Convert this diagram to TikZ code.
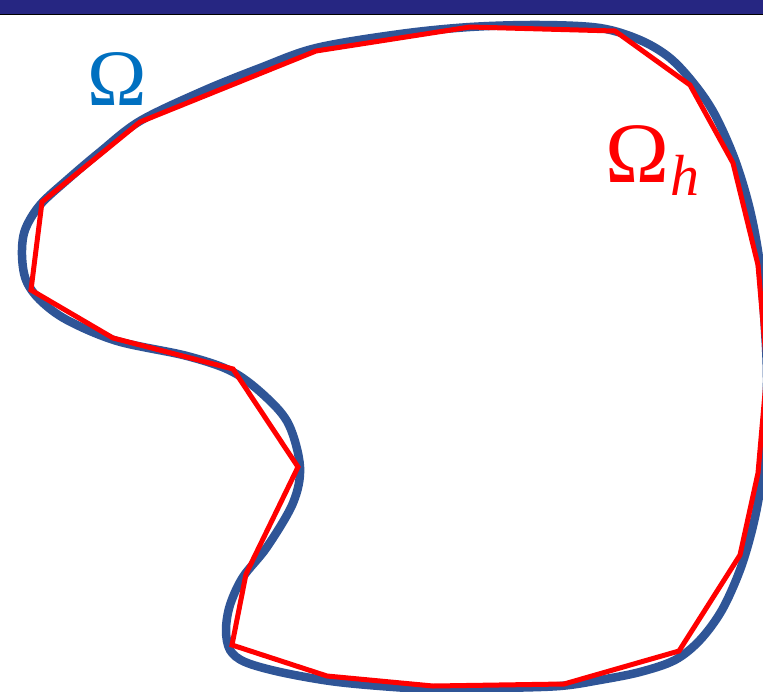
\documentclass[tikz,border=0pt]{standalone}
\usepackage{fontspec}
\newfontfamily\omegafont{Liberation Serif}
\usetikzlibrary{calc}
\definecolor{barblue}{RGB}{38,38,130}
\definecolor{curveblue}{RGB}{47,85,151}
\definecolor{labelblue}{RGB}{0,112,192}
\definecolor{polyred}{RGB}{255,0,0}
\tikzset{
  exact/.style={draw=curveblue, line width=8.5pt},
  approx/.style={draw=polyred, line width=5pt, line join=miter},
  biglabel/.style={inner sep=0pt},
}
\begin{document}
\begin{tikzpicture}[x=1pt,y=-1pt]
\useasboundingbox (0,0) rectangle (763,691);
\clip (0,0) rectangle (763,691);
\fill[white] (0,0) rectangle (763,691);
% top bar
\fill[barblue] (0,0) rectangle (763,14);
\draw[black, line width=1.5pt] (0,14.5) -- (763,14.5);
% exact domain boundary
\draw[exact] plot[smooth cycle, tension=0.55] coordinates {
 (316,48) (400,34) (470,27) (540,25) (600,28) (640,40) (670,58) (695,85)
 (715,115) (735,160) (750,210) (760,265) (765,330) (767,380) (765,440)
 (760,490) (752,530) (740,570) (722,610) (700,640) (675,660) (640,672)
 (600,680) (560,686) (500,688) (433,689) (380,686) (330,681) (280,672)
 (245,662) (230,650) (226,630) (230,605) (243,577) (267,547) (293,503)
 (300,467) (289,425) (267,398) (233,372) (187,356) (117,341) (67,320)
 (40,300) (26,280) (22,255) (25,230) (40,205) (67,180) (100,152)
 (140,121) (203,91) (260,68)};
% polygonal approximation
\draw[approx] (42,202) -- (140,122) -- (316,51) -- (470,27) -- (615,31)
 -- (690,85) -- (733,163) -- (758,265) -- (767,370) -- (758,473)
 -- (740,555) -- (679,651) -- (564,684) -- (433,686) -- (327,676)
 -- (232,645) -- (246,574) -- (298,467) -- (233,369) -- (113,338)
 -- (31,290) -- cycle;
% labels
\node[biglabel, text=labelblue, anchor=base] (omega) at (117.5,105)
  {\omegafont\fontsize{80}{82}\selectfont Ω};
\node[biglabel, text=polyred, anchor=base west] (omegah) at (605,182)
  {\omegafont\fontsize{86}{88}\selectfont Ω\kern1pt\raisebox{-13pt}{\fontsize{58}{60}\selectfont\itshape h}};
\end{tikzpicture}
\end{document}
